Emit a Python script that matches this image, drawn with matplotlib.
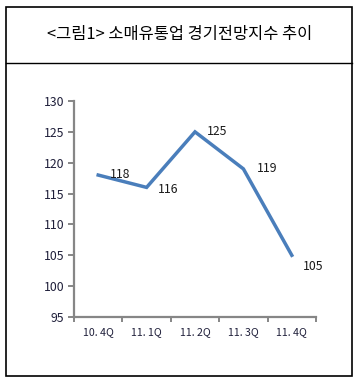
import matplotlib.pyplot as plt
from matplotlib.patches import Rectangle
from matplotlib.lines import Line2D

plt.rcParams['font.family'] = ['Noto Sans CJK KR', 'DejaVu Sans']

# data
quarters = ['10. 4Q', '11. 1Q', '11. 2Q', '11. 3Q', '11. 4Q']
bsi = [118, 116, 125, 119, 105]
label_offsets = [(12, 1), (11, -2), (12, 0), (13, 0), (11, -11)]  # px offsets for value labels
title = '<그림1> 소매유통업 경기전망지수 추이'

fig = plt.figure(figsize=(3.62, 3.86), dpi=100)

# outer frame and title separator
fig.patches.append(Rectangle((6 / 362, 1 - 376 / 386), 346 / 362, 369 / 386,
                             transform=fig.transFigure, fill=False,
                             edgecolor='black', linewidth=1.2))
fig.lines.append(Line2D([6 / 362, 352 / 362], [1 - 63 / 386, 1 - 63 / 386],
                        transform=fig.transFigure, color='black', linewidth=1.0))
fig.text(0.495, 1 - 35 / 386, title, ha='center', va='center', fontsize=11.8, color='black')

ax = fig.add_axes([74 / 362, 1 - 317 / 386, 242 / 362, 216 / 386])
x = list(range(len(quarters)))
ax.plot(x, bsi, color='#4A7EBB', linewidth=2.5, solid_joinstyle='miter')

for xi, v, off in zip(x, bsi, label_offsets):
    ax.annotate(str(v), (xi, v), xytext=(off[0] * 0.72, off[1] * 0.72),
                textcoords='offset points', ha='left', va='center',
                fontsize=8.8, color='#1a1a1a')

ax.set_xlim(-0.5, len(quarters) - 0.5)
ax.set_ylim(95, 130)
ax.set_yticks(range(95, 131, 5))
ax.set_xticks(x)
ax.set_xticklabels(quarters)
ax.set_xticks([i - 0.5 for i in range(len(quarters) + 1)], minor=True)

gray = '#868686'
for s in ['top', 'right']:
    ax.spines[s].set_visible(False)
for s in ['left', 'bottom']:
    ax.spines[s].set_color(gray)
    ax.spines[s].set_linewidth(1.6)

ax.tick_params(axis='y', length=4.5, width=1.4, color=gray, pad=2.5,
               labelsize=8.8, labelcolor='#1f1f3a')
ax.tick_params(axis='x', which='major', length=0, pad=7,
               labelsize=7.6, labelcolor='#1f1f3a')
ax.tick_params(axis='x', which='minor', length=3.5, width=1.4, color=gray)

fig.savefig('out.png', dpi=100)
